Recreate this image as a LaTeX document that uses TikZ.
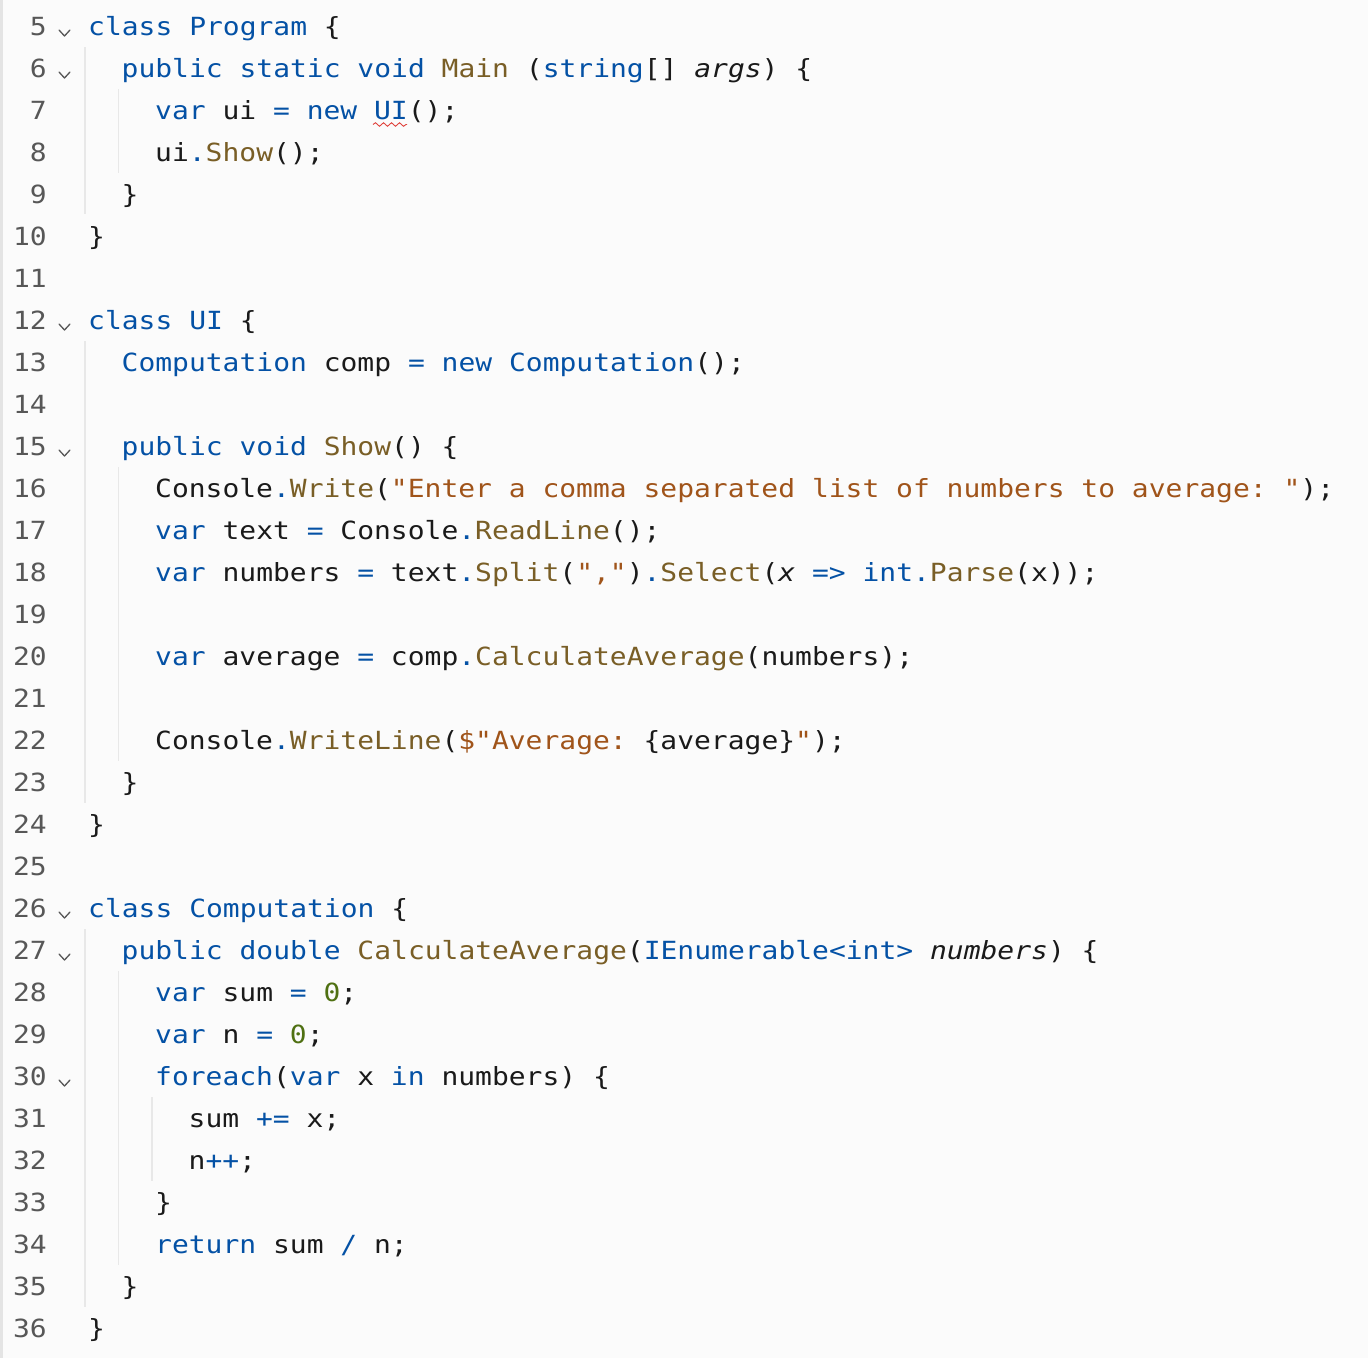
\documentclass[tikz,border=0pt]{standalone}
\usepackage{fontspec}
\newfontfamily\codefont[FakeStretch=1.119]{DejaVu Sans Mono}
\usetikzlibrary{decorations.pathmorphing}
\definecolor{kwblue}{HTML}{0451A5}
\definecolor{fnbrown}{HTML}{795E26}
\definecolor{strbrown}{HTML}{A0541A}
\definecolor{numgreen}{HTML}{4F7012}
\definecolor{lngray}{HTML}{575757}
\definecolor{codeblack}{HTML}{1A1A1A}
\definecolor{bgpanel}{HTML}{FBFBFB}
\definecolor{gutter}{HTML}{E4E4E4}
\definecolor{guidegray}{HTML}{E8E8E8}
\definecolor{squigred}{HTML}{E0443E}
\newcommand{\kw}[1]{\textcolor{kwblue}{#1}}
\newcommand{\fnc}[1]{\textcolor{fnbrown}{#1}}
\newcommand{\strg}[1]{\textcolor{strbrown}{#1}}
\newcommand{\nm}[1]{\textcolor{numgreen}{#1}}
\newcommand{\prm}[1]{\textit{#1}}
\begin{document}
\begin{tikzpicture}[x=1pt,y=-1pt,
  code/.style={anchor=base west,inner sep=0pt,text=codeblack,
    font=\codefont\fontsize{25pt}{30pt}\selectfont\frenchspacing},
  lnum/.style={anchor=base east,inner sep=0pt,text=lngray,
    font=\codefont\fontsize{25pt}{30pt}\selectfont},
  fold/.style={lngray,line width=1.3pt,line cap=round,line join=round},
  guide/.style={guidegray,line width=1.1pt},
  squig/.style={squigred,line width=0.9pt,decorate,
    decoration={snake,amplitude=1.8pt,segment length=8pt}}]
\useasboundingbox (0,0) rectangle (1368,1358);
\fill[bgpanel] (0,0) rectangle (1368,1358);
\fill[gutter] (0,0) rectangle (3,1358);
% line numbers and fold marks
\foreach \n in {5,...,36}
  \node[lnum] (n\n) at (47,35+\n*42-210) {\n};
\foreach \n in {5,6,12,15,26,27,30}
  \draw[fold] (59,30+\n*42-210) -- (64.5,36+\n*42-210) -- (70,30+\n*42-210);
% indent guides
\draw[guide] (85,47) -- (85,214);
\draw[guide] (85,341) -- (85,803);
\draw[guide] (85,929) -- (85,1307);
\draw[guide] (118.5,89) -- (118.5,173);
\draw[guide] (118.5,467) -- (118.5,761);
\draw[guide] (118.5,971) -- (118.5,1265);
\draw[guide] (152,1097) -- (152,1181);
% class Program
\node[code] (l5) at (88,35) {\kw{class} \kw{Program} \{};
\node[code] (l6) at (121.5,77) {\kw{public} \kw{static} \kw{void} \fnc{Main} (\kw{string}[] \prm{args}) \{};
\node[code] (l7) at (155,119) {\kw{var} ui \kw{=} \kw{new} \kw{UI}();};
\draw[squig] (373,124.5) -- (407,124.5);
\node[code] (l8) at (155,161) {ui\kw{.}\fnc{Show}();};
\node[code] (l9) at (121.5,203) {\}};
\node[code] (l10) at (88,245) {\}};
% class UI
\node[code] (l12) at (88,329) {\kw{class} \kw{UI} \{};
\node[code] (l13) at (121.5,371) {\kw{Computation} comp \kw{=} \kw{new} \kw{Computation}();};
\node[code] (l15) at (121.5,455) {\kw{public} \kw{void} \fnc{Show}() \{};
\node[code] (l16) at (155,497) {Console\kw{.}\fnc{Write}(\strg{"Enter a comma separated list of numbers to average: "});};
\node[code] (l17) at (155,539) {\kw{var} text \kw{=} Console\kw{.}\fnc{ReadLine}();};
\node[code] (l18) at (155,581) {\kw{var} numbers \kw{=} text\kw{.}\fnc{Split}(\strg{","})\kw{.}\fnc{Select}(\prm{x} \kw{=>} \kw{int}\kw{.}\fnc{Parse}(x));};
\node[code] (l20) at (155,665) {\kw{var} average \kw{=} comp\kw{.}\fnc{CalculateAverage}(numbers);};
\node[code] (l22) at (155,749) {Console\kw{.}\fnc{WriteLine}(\strg{\$"Average: }\{average\}\strg{"});};
\node[code] (l23) at (121.5,791) {\}};
\node[code] (l24) at (88,833) {\}};
% class Computation
\node[code] (l26) at (88,917) {\kw{class} \kw{Computation} \{};
\node[code] (l27) at (121.5,959) {\kw{public} \kw{double} \fnc{CalculateAverage}(\kw{IEnumerable<int>} \prm{numbers}) \{};
\node[code] (l28) at (155,1001) {\kw{var} sum \kw{=} \nm{0};};
\node[code] (l29) at (155,1043) {\kw{var} n \kw{=} \nm{0};};
\node[code] (l30) at (155,1085) {\kw{foreach}(\kw{var} x \kw{in} numbers) \{};
\node[code] (l31) at (188.5,1127) {sum \kw{+=} x;};
\node[code] (l32) at (188.5,1169) {n\kw{++};};
\node[code] (l33) at (155,1211) {\}};
\node[code] (l34) at (155,1253) {\kw{return} sum \kw{/} n;};
\node[code] (l35) at (121.5,1295) {\}};
\node[code] (l36) at (88,1337) {\}};
\end{tikzpicture}
\end{document}
